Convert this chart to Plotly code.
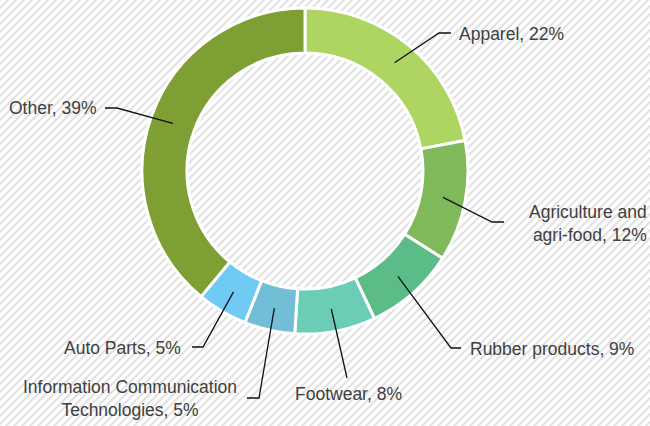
import base64
import math
import plotly.graph_objects as go

# ---- data ----
categories = ["Apparel", "Agriculture and<br>agri-food", "Rubber products", "Footwear",
              "Information Communication<br>Technologies", "Auto Parts", "Other"]
values = [22, 12, 9, 8, 5, 5, 39]

# ---- styling ----
colors = ["#AED462", "#80B95A", "#5CBC87", "#6BCDB6", "#72BED7", "#6FCAF4", "#7E9F34"]
W, H = 650, 426
CX, CY, R_OUT, R_IN = 305, 171, 163, 118
FONT = "Liberation Sans Narrow, Arial Narrow, Liberation Sans, Arial, sans-serif"

# label layout (pixels): elbow point, line end point, text position, anchors, align
label_layout = [
    dict(elbow=(439, 33), end=(451, 33), pos=(457, 34), xa="left", al="left"),
    dict(elbow=(492, 222), end=(504, 222), pos=(649, 223), xa="right", al="right"),
    dict(elbow=(451, 348), end=(461, 348), pos=(468, 349), xa="left", al="left"),
    dict(elbow=(347, 378), end=(347, 378), pos=(348, 394), xa="center", al="center"),
    dict(elbow=(259, 398), end=(247, 398), pos=(239, 398), xa="right", al="center"),
    dict(elbow=(203, 347), end=(192, 347), pos=(183, 348), xa="right", al="right"),
    dict(elbow=(117, 108), end=(105, 108), pos=(99, 108), xa="right", al="right"),
]

def px(x):
    return x / W

def py(y):
    return 1 - y / H

# background stripes as an inline SVG
svg = (
    f'<svg xmlns="http://www.w3.org/2000/svg" width="{W}" height="{H}">'
    '<defs><pattern id="p" patternUnits="userSpaceOnUse" width="8" height="8">'
    '<rect width="8" height="8" fill="#ffffff"/>'
    '<path d="M-2,2 l4,-4 M0,8 l8,-8 M6,10 l4,-4" stroke="#e2e2e2" stroke-width="2.2"/>'
    '</pattern></defs>'
    f'<rect width="{W}" height="{H}" fill="url(#p)"/></svg>'
)
src = "data:image/svg+xml;base64," + base64.b64encode(svg.encode()).decode()

fig = go.Figure(go.Pie(
    labels=categories,
    values=values,
    sort=False,
    direction="clockwise",
    rotation=0,
    hole=R_IN / R_OUT,
    marker=dict(colors=colors, line=dict(color="white", width=3)),
    textinfo="none",
    hoverinfo="label+percent",
    showlegend=False,
    domain=dict(x=[px(CX - R_OUT), px(CX + R_OUT)],
                y=[py(CY + R_OUT), py(CY - R_OUT)]),
))

total = sum(values)
cum = 0
shapes, annotations = [], []
r_mid = (R_OUT + R_IN) / 2
for cat, v, lay in zip(categories, values, label_layout):
    ang = (cum + v / 2) / total * 2 * math.pi
    cum += v
    ax = CX + r_mid * math.sin(ang)
    ay = CY - r_mid * math.cos(ang)
    ex, ey = lay["elbow"]
    tx, ty = lay["end"]
    path = f"M {px(ax)},{py(ay)} L {px(ex)},{py(ey)} L {px(tx)},{py(ty)}"
    shapes.append(dict(type="path", xref="paper", yref="paper", path=path,
                       line=dict(color="#111111", width=1.3)))
    annotations.append(dict(
        text=f"{cat}, {round(v / total * 100)}%",
        x=px(lay["pos"][0]), y=py(lay["pos"][1]),
        xref="paper", yref="paper", xanchor=lay["xa"], yanchor="middle",
        align=lay["al"], showarrow=False,
        font=dict(family=FONT, size=17.5, color="#404040"),
    ))

fig.update_layout(
    width=W, height=H,
    margin=dict(l=0, r=0, t=0, b=0),
    paper_bgcolor="white",
    plot_bgcolor="rgba(0,0,0,0)",
    images=[dict(source=src, xref="paper", yref="paper", x=0, y=1, sizex=1, sizey=1,
                 xanchor="left", yanchor="top", sizing="stretch", layer="below")],
    shapes=shapes,
    annotations=annotations,
)

fig.write_html("out.html", config={"displayModeBar": False},
               post_script="document.body.style.margin='0';document.body.style.overflow='hidden';")
